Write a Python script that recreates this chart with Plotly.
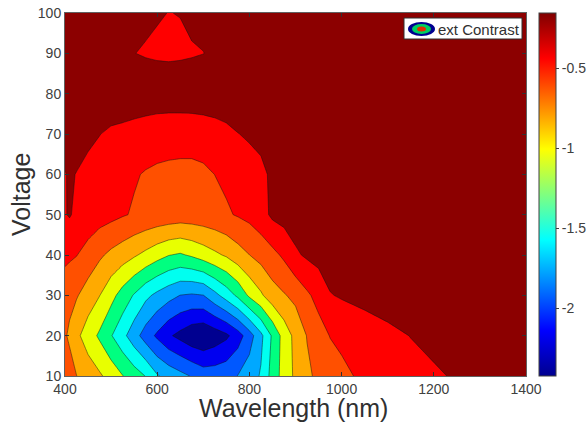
import plotly.graph_objects as go

wavelengths = [400,410,425,450,475,500,525,550,575,600,625,650,675,700,725,750,775,800,825,850,875,900,925,950,975,1000,
               1050,1100,1150,1200,1250,1300,1350,1400]
voltages = [10,20,30,40,50,60,70,80,90,100]

row_10 = [-.62,-.68,-.77,-.86,-.95,-1.06,-1.18,-1.29,-1.40,-1.58,-1.67,-1.745,-1.82,-1.90,-1.90,-1.87,-1.80,-1.70,-1.58,-1.31,-1.10,-.94,-.81,-.73,-.665,-.60,
          -.535,-.48,-.43,-.385,-.34,-.31,-.29,-.28]
row_20 = [-.75,-.81,-.93,-1.085,-1.22,-1.38,-1.54,-1.72,-1.90,-2.05,-2.19,-2.28,-2.37,-2.41,-2.34,-2.26,-2.11,-1.90,-1.65,-1.36,-1.10,-.92,-.765,-.65,-.56,-.535,
          -.48,-.41,-.355,-.31,-.27,-.25,-.24,-.23]
row_30 = [-.68,-.715,-.755,-.865,-.975,-1.12,-1.27,-1.41,-1.55,-1.65,-1.735,-1.81,-1.83,-1.81,-1.66,-1.51,-1.35,-1.15,-1.01,-.86,-.79,-.72,-.60,-.50,-.37,-.34,
          -.29,-.26,-.24,-.22,-.20,-.19,-.18,-.18]
row_40 = [-.52,-.535,-.56,-.645,-.74,-.82,-.885,-.955,-1.03,-1.11,-1.18,-1.21,-1.16,-1.09,-1.02,-.955,-.86,-.775,-.70,-.625,-.53,-.39,-.33,-.29,-.26,-.24,
          -.21,-.20,-.19,-.18,-.18,-.17,-.17,-.17]
row_50 = [-.37,-.345,-.40,-.44,-.48,-.51,-.55,-.585,-.61,-.63,-.645,-.66,-.655,-.645,-.625,-.59,-.55,-.51,-.44,-.32,-.28,-.26,-.245,-.23,-.215,-.20,
          -.19,-.18,-.18,-.18,-.17,-.17,-.17,-.17]
row_60 = [-.37,-.34,-.365,-.41,-.455,-.49,-.52,-.55,-.58,-.60,-.61,-.615,-.615,-.60,-.565,-.53,-.50,-.46,-.41,-.32,-.27,-.25,-.235,-.22,-.21,-.20,
          -.19,-.18,-.18,-.17,-.17,-.17,-.17,-.17]
row_70 = [-.25,-.26,-.285,-.32,-.355,-.395,-.42,-.44,-.46,-.475,-.485,-.49,-.49,-.48,-.46,-.42,-.365,-.33,-.30,-.27,-.24,-.22,-.21,-.20,-.195,-.19,
          -.18,-.18,-.18,-.18,-.17,-.17,-.17,-.17]
row_80 = [-.20,-.20,-.20,-.20,-.21,-.22,-.205,-.224,-.235,-.245,-.245,-.24,-.235,-.225,-.21,-.20,-.20,-.195,-.19,-.19,-.19,-.19,-.19,-.19,-.19,-.19,
          -.18,-.18,-.18,-.18,-.18,-.17,-.17,-.17]
row_90 = [-.20,-.20,-.21,-.24,-.27,-.30,-.33,-.357,-.375,-.385,-.39,-.385,-.375,-.362,-.33,-.30,-.27,-.25,-.23,-.22,-.21,-.20,-.19,-.19,-.19,-.19,
          -.18,-.18,-.18,-.18,-.18,-.17,-.17,-.17]
row_100 = [-.19,-.19,-.19,-.20,-.20,-.22,-.26,-.30,-.325,-.348,-.362,-.356,-.325,-.32,-.28,-.24,-.22,-.21,-.20,-.20,-.19,-.19,-.19,-.19,-.19,-.18,
           -.18,-.18,-.18,-.18,-.17,-.17,-.17,-.17]
z_rows = [row_10,row_20,row_30,row_40,row_50,row_60,row_70,row_80,row_90,row_100]
assert all(len(r) == len(wavelengths) for r in z_rows)

band_colors = ["#000090","#0000f0","#0058ff","#00a8ff","#00fff0","#00ff80",
               "#e8ff00","#ffaa00","#ff5000","#ff0000","#8c0000"]
jet = [[0,"#00008f"],[0.125,"#0000ff"],[0.375,"#00ffff"],[0.625,"#ffff00"],[0.875,"#ff0000"],[1,"#800000"]]
z_low, z_high = -2.425, -0.156
tick_vals = [-2,-1.5,-1,-0.5]
tick_text = ["-2","-1.5","-1","-0.5"]
x_ticks = [400,600,800,1000,1200,1400]
y_ticks = [10,20,30,40,50,60,70,80,90,100]

W,H = 587,424
L,R,T,B = 65,526,13,376
grey = "#404040"

def px(x): return x/W
def py(y): return 1-y/H

n = len(band_colors)
scale = [[i/(n-1),c] for i,c in enumerate(band_colors)]

fig = go.Figure()
fig.add_trace(go.Contour(
    x=wavelengths,y=voltages,z=z_rows,
    autocontour=False,
    contours=dict(start=-2.22,end=-0.35,size=0.2067,coloring="fill"),
    colorscale=scale,
    zauto=False,zmin=-2.22-0.10335,zmax=-0.36+0.10335,
    line=dict(color="rgba(20,20,20,0.6)",width=0.8,smoothing=0),
    showscale=False,hoverinfo="skip"))
fig.add_trace(go.Scatter(
    x=[wavelengths[0]]*2,y=[voltages[0]]*2,mode="markers",
    marker=dict(size=1,opacity=0,color=[z_low,z_high],cmin=z_low,cmax=z_high,colorscale=jet,showscale=True,
        colorbar=dict(x=539/W,xanchor="left",xpad=0,ypad=0,
            y=1-B/H,yanchor="bottom",len=(B-T)/H,lenmode="fraction",
            thickness=17,thicknessmode="pixels",outlinecolor=grey,outlinewidth=1,
            tickmode="array",tickvals=tick_vals,ticktext=tick_text,ticks="outside",ticklen=3,tickcolor=grey,
            tickfont=dict(family="Liberation Sans",size=14,color=grey))),
    showlegend=False,hoverinfo="skip"))

axis = dict(ticks="inside",ticklen=4,tickcolor="#303030",mirror="ticks",showline=True,linecolor="#606060",linewidth=1,
            showgrid=False,zeroline=False,automargin=False,tickfont=dict(family="Liberation Sans",size=14,color=grey))
shapes = [
    dict(type="rect",xref="paper",yref="paper",x0=px(404),x1=px(522),y0=py(18),y1=py(39),fillcolor="white",line=dict(color="#303030",width=1)),
    dict(type="circle",xref="paper",yref="paper",x0=px(408),x1=px(435),y0=py(22),y1=py(36),fillcolor="#000090",line=dict(width=0)),
    dict(type="circle",xref="paper",yref="paper",x0=px(412),x1=px(431),y0=py(24),y1=py(34),fillcolor="#00d060",line=dict(width=0)),
    dict(type="circle",xref="paper",yref="paper",x0=px(417),x1=px(426),y0=py(26.5),y1=py(31.5),fillcolor="#e03000",line=dict(width=0)),
]
title_font = dict(family="Liberation Sans",size=25,color="#303030")
fig.update_layout(
    width=W,height=H,autosize=False,paper_bgcolor="white",plot_bgcolor="white",
    margin=dict(l=0,r=0,t=0,b=0,pad=0),showlegend=False,
    xaxis=dict(axis,range=[400,1400],tickvals=x_ticks,domain=[L/W,R/W]),
    yaxis=dict(axis,range=[10,100],tickvals=y_ticks,domain=[1-B/H,1-T/H]),
    shapes=shapes,
    annotations=[
        dict(text="ext Contrast",xref="paper",yref="paper",x=px(436),y=py(29),xanchor="left",yanchor="middle",
             showarrow=False,font=dict(family="Liberation Sans",size=15,color="#303030")),
        dict(text="Wavelength (nm)",xref="paper",yref="paper",x=px(294),y=py(408),xanchor="center",yanchor="middle",
             showarrow=False,font=title_font),
        dict(text="Voltage",xref="paper",yref="paper",x=px(21),y=py(195),xanchor="center",yanchor="middle",textangle=-90,
             showarrow=False,font=title_font),
    ],
)
fig.write_html("out.html",config={"displayModeBar":False},
               post_script="document.body.style.margin='0';document.body.style.overflow='hidden';")
